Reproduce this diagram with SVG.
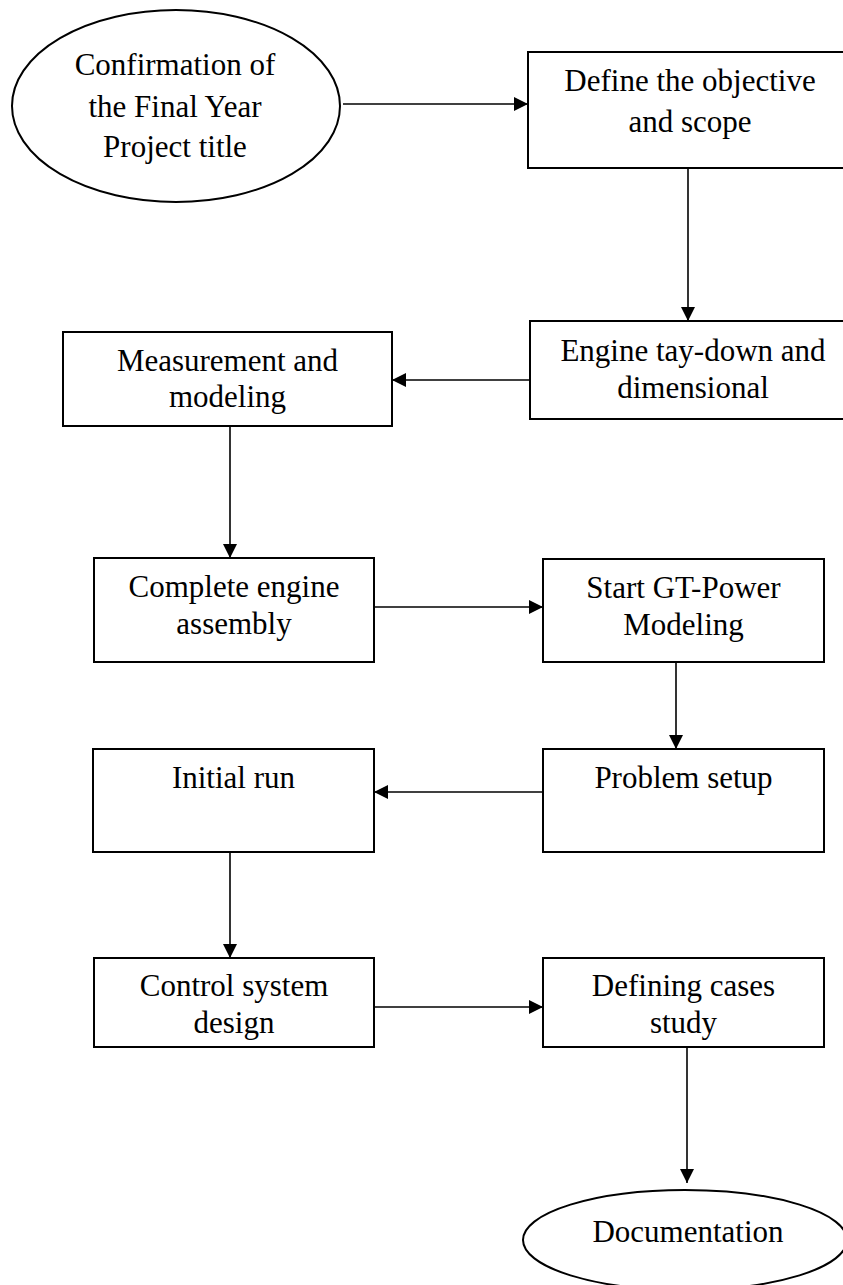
<svg xmlns="http://www.w3.org/2000/svg" width="843" height="1285" viewBox="0 0 843 1285">
<defs>
<marker id="arr" markerUnits="userSpaceOnUse" markerWidth="14" markerHeight="14" refX="14" refY="7" orient="auto">
<path d="M0,0 L14,7 L0,14 z" fill="#000"/>
</marker>
<style>
.n{fill:#fff;stroke:#000;stroke-width:2}
.t{font-family:"Liberation Serif","Times New Roman",serif;font-size:31px;fill:#000;text-anchor:middle}
.c{stroke:#000;stroke-width:1.6;fill:none;marker-end:url(#arr)}
</style>
</defs>
<rect width="843" height="1285" fill="#fff"/>
<g id="connectors">
<line class="c" x1="343" y1="104" x2="528" y2="104"/>
<line class="c" x1="688" y1="168" x2="688" y2="321"/>
<line class="c" x1="530" y1="380" x2="392" y2="380"/>
<line class="c" x1="230" y1="426" x2="230" y2="558"/>
<line class="c" x1="374" y1="607" x2="543" y2="607"/>
<line class="c" x1="676" y1="662" x2="676" y2="749"/>
<line class="c" x1="543" y1="792" x2="374" y2="792"/>
<line class="c" x1="230" y1="852" x2="230" y2="958"/>
<line class="c" x1="374" y1="1007" x2="543" y2="1007"/>
<line class="c" x1="687" y1="1047" x2="687" y2="1183"/>
</g>
<g id="n1">
<ellipse class="n" cx="176" cy="106" rx="164" ry="96"/>
<text class="t" x="175" y="75">Confirmation of</text>
<text class="t" x="175" y="117">the Final Year</text>
<text class="t" x="175" y="157">Project title</text>
</g>
<g id="n2">
<rect class="n" x="528" y="52" width="340" height="116"/>
<text class="t" x="690" y="91">Define the objective</text>
<text class="t" x="690" y="132">and scope</text>
</g>
<g id="n3">
<rect class="n" x="530" y="321" width="340" height="98"/>
<text class="t" x="693" y="361">Engine tay-down and</text>
<text class="t" x="693" y="398">dimensional</text>
</g>
<g id="n4">
<rect class="n" x="63" y="332" width="329" height="94"/>
<text class="t" x="227.5" y="371">Measurement and</text>
<text class="t" x="227.5" y="407">modeling</text>
</g>
<g id="n5">
<rect class="n" x="94" y="558" width="280" height="104"/>
<text class="t" x="234" y="597">Complete engine</text>
<text class="t" x="234" y="634">assembly</text>
</g>
<g id="n6">
<rect class="n" x="543" y="559" width="281" height="103"/>
<text class="t" x="683.5" y="598">Start GT-Power</text>
<text class="t" x="683.5" y="635">Modeling</text>
</g>
<g id="n7">
<rect class="n" x="543" y="749" width="281" height="103"/>
<text class="t" x="683.5" y="788">Problem setup</text>
</g>
<g id="n8">
<rect class="n" x="93" y="749" width="281" height="103"/>
<text class="t" x="233.5" y="788">Initial run</text>
</g>
<g id="n9">
<rect class="n" x="94" y="958" width="280" height="89"/>
<text class="t" x="234" y="996">Control system</text>
<text class="t" x="234" y="1033">design</text>
</g>
<g id="n10">
<rect class="n" x="543" y="958" width="281" height="89"/>
<text class="t" x="683.5" y="996">Defining cases</text>
<text class="t" x="683.5" y="1033">study</text>
</g>
<g id="n11">
<ellipse class="n" cx="685" cy="1240" rx="162" ry="50"/>
<text class="t" x="688" y="1242">Documentation</text>
</g>
</svg>
